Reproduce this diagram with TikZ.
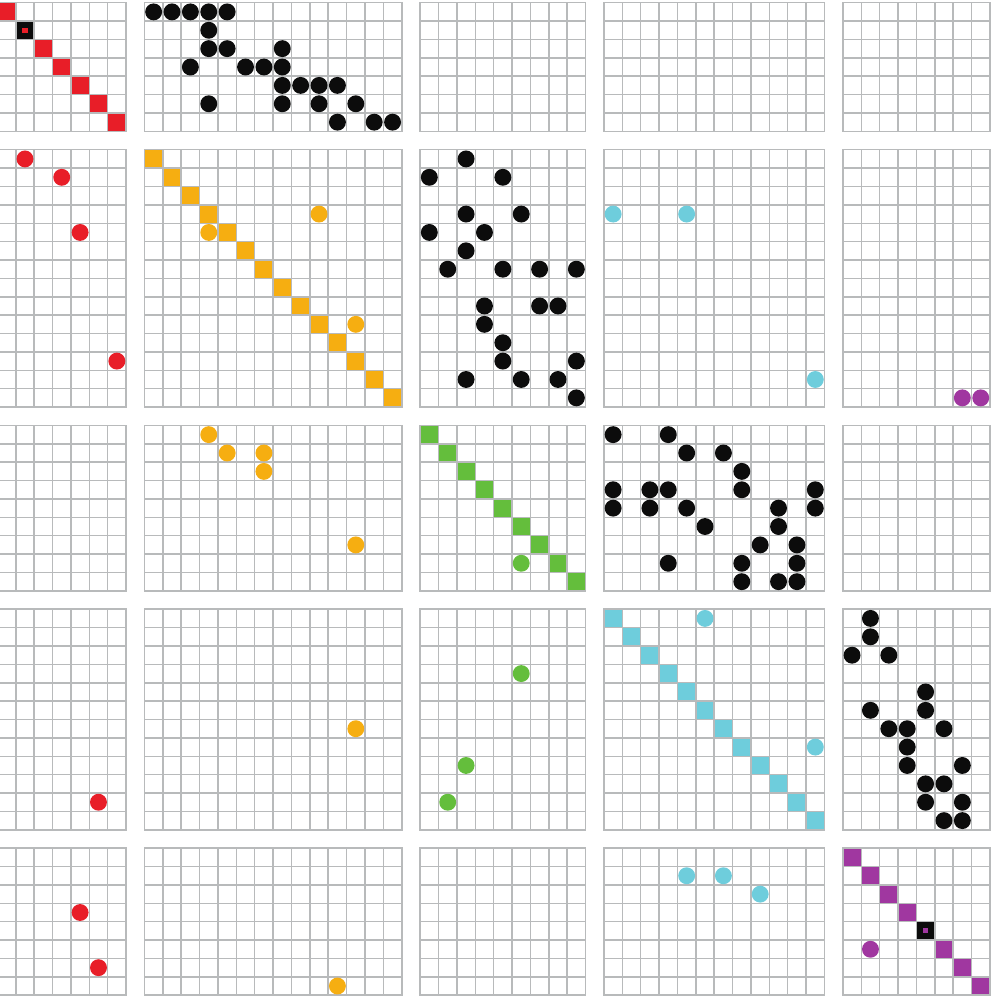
\documentclass[tikz,border=0pt]{standalone}
\definecolor{gridgray}{RGB}{184,186,187}
\definecolor{mred}{RGB}{232,30,40}
\definecolor{morange}{RGB}{246,174,17}
\definecolor{mgreen}{RGB}{100,190,60}
\definecolor{mcyan}{RGB}{110,205,220}
\definecolor{mpurple}{RGB}{160,55,160}
\definecolor{mblack}{RGB}{12,12,12}
\begin{document}
\begin{tikzpicture}[x=18.38pt,y=-18.38pt,
  gridline/.style={draw=gridgray,line width=1.5pt,line cap=rect}]
\useasboundingbox (0.1415,-0.1469) rectangle (54.167,54.206);
\fill[white] (0.1415,-0.1469) rectangle (54.167,54.206);
% grids
\foreach \ro/\rn in {0/7,8/14,23/9,33/12,46/8}{
  \foreach \co/\cn in {0/7,8/14,23/9,33/12,46/8}{
    \foreach \i in {0,...,\cn} \draw[gridline] (\co+\i,\ro) -- (\co+\i,\ro+\rn);
    \foreach \j in {0,...,\rn} \draw[gridline] (\co,\ro+\j) -- (\co+\cn,\ro+\j);
  }
}
% diagonal squares
\foreach \o/\n/\cc in {0/7/mred,8/14/morange,23/9/mgreen,33/12/mcyan,46/8/mpurple}{
  \foreach \k in {1,...,\n}
    \fill[\cc] (\o+\k-1+0.04,\o+\k-1+0.04) rectangle (\o+\k-0.04,\o+\k-0.04);
}
% special cells
\fill[mblack] (1.04,1.04) rectangle (1.96,1.96);
\fill[mred] (1.36,1.36) rectangle (1.64,1.64);
\fill[mblack] (50.04,50.04) rectangle (50.96,50.96);
\fill[mpurple] (50.36,50.36) rectangle (50.64,50.64);
% R1C2 black
\foreach \r/\c in {0/0,0/1,0/2,0/3,0/4,1/3,2/3,2/4,2/7,3/2,3/5,3/6,3/7,4/7,4/8,4/9,4/10,5/3,5/7,5/9,5/11,6/10,6/12,6/13}
  \fill[mblack] (8+\c+0.5,0+\r+0.5) circle (0.46);
% R2C1 red
\foreach \r/\c in {0/1,1/3,4/4,11/6}
  \fill[mred] (0+\c+0.5,8+\r+0.5) circle (0.46);
% R2C2 orange
\foreach \r/\c in {3/9,4/3,9/11}
  \fill[morange] (8+\c+0.5,8+\r+0.5) circle (0.46);
% R2C3 black
\foreach \r/\c in {0/2,1/0,1/4,3/2,3/5,4/0,4/3,5/2,6/1,6/4,6/6,6/8,8/3,8/6,8/7,9/3,10/4,11/4,11/8,12/2,12/5,12/7,13/8}
  \fill[mblack] (23+\c+0.5,8+\r+0.5) circle (0.46);
% R2C4 cyan
\foreach \r/\c in {3/0,3/4,12/11}
  \fill[mcyan] (33+\c+0.5,8+\r+0.5) circle (0.46);
% R2C5 purple
\foreach \r/\c in {13/6,13/7}
  \fill[mpurple] (46+\c+0.5,8+\r+0.5) circle (0.46);
% R3C2 orange
\foreach \r/\c in {0/3,1/4,1/6,2/6,6/11}
  \fill[morange] (8+\c+0.5,23+\r+0.5) circle (0.46);
% R3C3 green
\foreach \r/\c in {7/5}
  \fill[mgreen] (23+\c+0.5,23+\r+0.5) circle (0.46);
% R3C4 black
\foreach \r/\c in {0/0,0/3,1/4,1/6,2/7,3/0,3/2,3/3,3/7,3/11,4/0,4/2,4/4,4/9,4/11,5/5,5/9,6/8,6/10,7/3,7/7,7/10,8/7,8/9,8/10}
  \fill[mblack] (33+\c+0.5,23+\r+0.5) circle (0.46);
% R4C1 red
\foreach \r/\c in {10/5}
  \fill[mred] (0+\c+0.5,33+\r+0.5) circle (0.46);
% R4C2 orange
\foreach \r/\c in {6/11}
  \fill[morange] (8+\c+0.5,33+\r+0.5) circle (0.46);
% R4C3 green
\foreach \r/\c in {3/5,8/2,10/1}
  \fill[mgreen] (23+\c+0.5,33+\r+0.5) circle (0.46);
% R4C4 cyan
\foreach \r/\c in {0/5,7/11}
  \fill[mcyan] (33+\c+0.5,33+\r+0.5) circle (0.46);
% R4C5 black
\foreach \r/\c in {0/1,1/1,2/0,2/2,4/4,5/1,5/4,6/2,6/3,6/5,7/3,8/3,8/6,9/4,9/5,10/4,10/6,11/5,11/6}
  \fill[mblack] (46+\c+0.5,33+\r+0.5) circle (0.46);
% R5C1 red
\foreach \r/\c in {3/4,6/5}
  \fill[mred] (0+\c+0.5,46+\r+0.5) circle (0.46);
% R5C2 orange
\foreach \r/\c in {7/10}
  \fill[morange] (8+\c+0.5,46+\r+0.5) circle (0.46);
% R5C4 cyan
\foreach \r/\c in {1/4,1/6,2/8}
  \fill[mcyan] (33+\c+0.5,46+\r+0.5) circle (0.46);
% R5C5 purple
\foreach \r/\c in {5/1}
  \fill[mpurple] (46+\c+0.5,46+\r+0.5) circle (0.46);
\end{tikzpicture}
\end{document}
